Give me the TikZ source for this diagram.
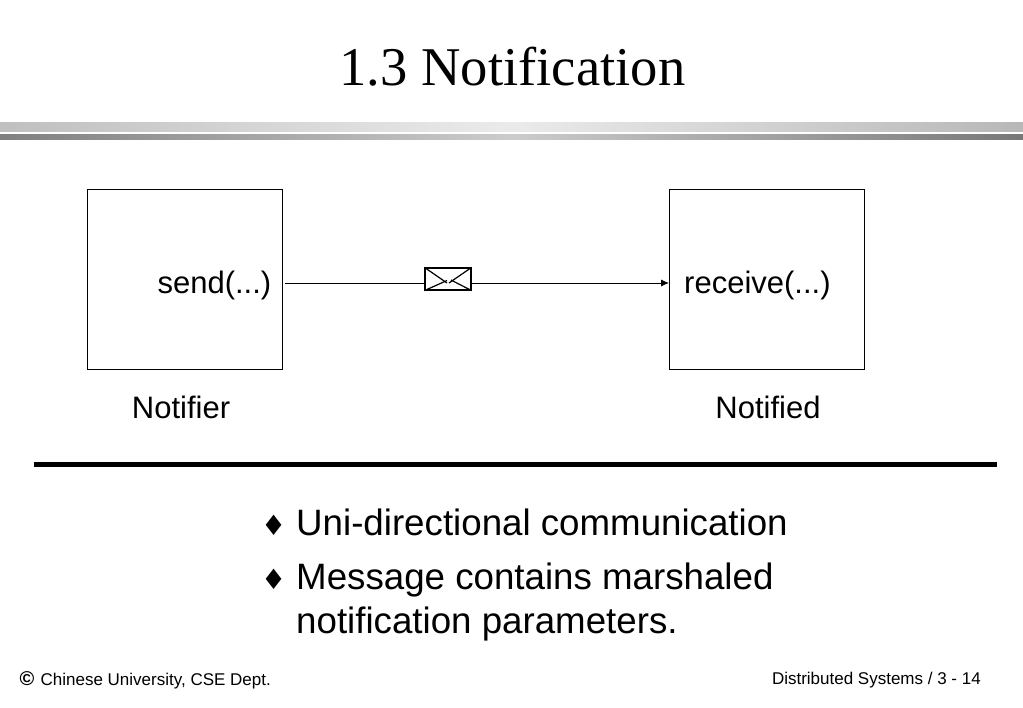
\documentclass[tikz,border=0pt]{standalone}
\usepackage{fontspec}
\setmainfont{Liberation Sans}
\newfontfamily\titlefont{Liberation Serif}
\newfontfamily\symfont{DejaVu Sans}
\usetikzlibrary{positioning}
\usetikzlibrary{arrows.meta}
\tikzset{
    objbox/.style={rectangle, draw=black, line width=0.9pt, minimum width=195pt, minimum height=180pt, inner sep=0pt},
    lbl/.style={inner sep=0pt, font=\fontsize{31}{36}\selectfont},
    bullet/.style={inner sep=0pt, anchor=base west, font=\fontsize{36.7}{44}\selectfont},
    foot/.style={inner sep=0pt, font=\fontsize{17}{20}\selectfont, anchor=base west},
    msg/.style={line width=0.9pt, -{Latex[length=8pt,width=7pt]}}
}
\begin{document}
\begin{tikzpicture}[x=1pt, y=-1pt]
        \useasboundingbox (0,0) rectangle (1023,708);
        \node[inner sep=0pt, anchor=base, font=\titlefont\fontsize{54.6}{60}\selectfont] (title) at (512.5,85.5) {1.3 Notification};
        % header rules
        \shade[left color=black!25, right color=black!28, middle color=black!8] (0,123) rectangle (1023,132);
        \shade[left color=black!50, right color=black!53, middle color=black!20] (0,135) rectangle (1023,140);
        \node[objbox] (notifier) at (185,279) {};
        \node[objbox] (notified) at (767,279) {};
        \node[lbl, anchor=base east] (send) at (271.5,293.5) {send(...)};
        \node[lbl, anchor=base west] (receive) at (684,293.5) {receive(...)};
        \node[lbl, anchor=base] (notifiername) at (181,419) {Notifier};
        \node[lbl, anchor=base] (notifiedname) at (768,419) {Notified};
        \node[rectangle, draw=black, fill=white, line width=1.3pt, minimum width=46pt, minimum height=22pt, inner sep=0pt] (env) at (448,279) {};
        \draw[line width=1.2pt] (env.north west) -- (447,283);
        \draw[line width=1.2pt] (env.north east) -- (449,283);
        \draw[line width=1.2pt] (env.south west) -- (447,280.5);
        \draw[line width=1.2pt] (env.south east) -- (451,280);
        \draw[line width=0.9pt] (send.east |- env.west) ++(13.5,4) coordinate (start) -- (start -| env.west);
        \draw[msg] (start -| env.east) -- (start -| notified.west);
        \coordinate (ruleleft) at (34,464);
        \coordinate (ruleright) at (997,464);
        \draw[line width=5pt] (ruleleft) -- (ruleright);
        \node[bullet] (b1) at (261,535.5) {\symfont\fontsize{28}{32}\selectfont ♦};
        \node[bullet] (t1) at (296,535.5) {Uni-directional communication};
        \node[bullet] (b2) at (261,589.5) {\symfont\fontsize{28}{32}\selectfont ♦};
        \node[bullet] (t2) at (296,589.5) {Message contains marshaled};
        \node[bullet] (t3) at (296,633.5) {notification parameters.};
        \node[foot] (copy) at (19.5,685) {{\bfseries\fontsize{20}{20}\selectfont ©}\hspace{1.5pt} Chinese University, CSE Dept.};
        \node[foot, anchor=base east] (page) at (981,684.5) {Distributed Systems / 3 - 14};
    \end{tikzpicture}
\end{document}
